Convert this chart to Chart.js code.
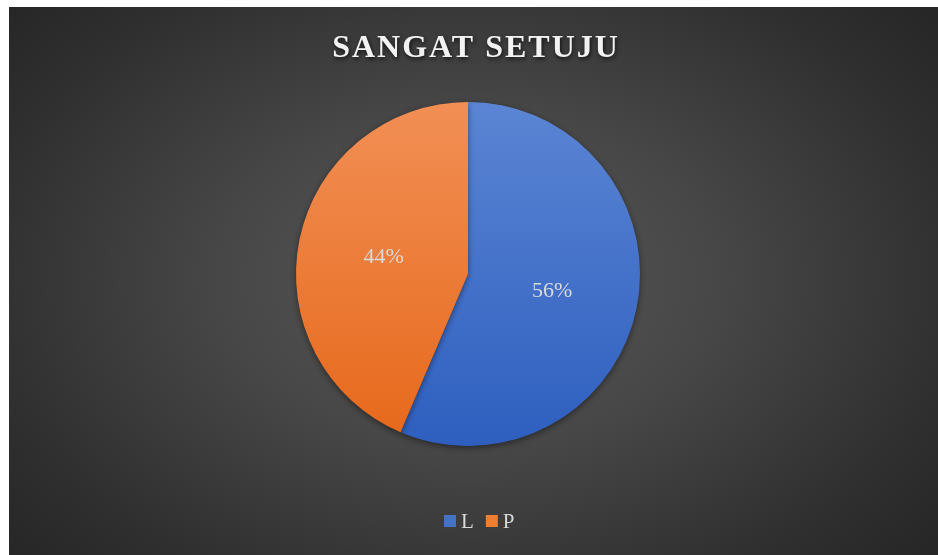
<!DOCTYPE html>
<html lang="id">
<head>
  <meta charset="UTF-8">
  <title>Sangat Setuju</title>
  <script src="https://cdn.jsdelivr.net/npm/chart.js"></script>
  <style>
    html, body { margin: 0; padding: 0; background: #fff; }
    #wrap {
      position: absolute; left: 9px; top: 7px; width: 929px; height: 548px;
      background: radial-gradient(ellipse 620px 420px at 460px 272px, #585858 0%, #474747 40%, #2f2f2f 80%, #262626 100%);
    }
  </style>
</head>
<body>

  <div id="wrap"><canvas id="pieChart" width="929" height="548"></canvas></div>

  <script>
    // data (counts: 56% / 44%)
    const chartTitle = 'SANGAT SETUJU';
    const categories = ['L', 'P'];
    const values = [22, 17];
    const topColors = ['#5b85d4', '#f28f55'];
    const bottomColors = ['#2e5fbf', '#e6681a'];
    const legendColors = ['#4472c4', '#ed7d31'];

    // vertical gradient per slice, across the pie
    function sliceFill(c) {
      const area = c.chart.chartArea;
      if (!area) return topColors[c.dataIndex];
      const g = c.chart.ctx.createLinearGradient(0, area.top, 0, area.bottom);
      g.addColorStop(0, topColors[c.dataIndex]);
      g.addColorStop(1, bottomColors[c.dataIndex]);
      return g;
    }

    const extras = {
      id: 'extras',
      beforeDatasetsDraw(chart) {
        const ctx = chart.ctx;
        ctx.save();
        ctx.shadowColor = 'rgba(0,0,0,0.45)';
        ctx.shadowBlur = 6;
        ctx.shadowOffsetY = 2;
      },
      afterDatasetsDraw(chart) {
        chart.ctx.restore();
      },
      afterDraw(chart) {
        const ctx = chart.ctx;
        const total = values.reduce((a, b) => a + b, 0);

        // title
        ctx.save();
        ctx.font = 'bold 32px "Liberation Serif", "Times New Roman", serif';
        ctx.letterSpacing = '2px';
        ctx.textAlign = 'center';
        ctx.textBaseline = 'middle';
        ctx.shadowColor = 'rgba(0,0,0,0.75)';
        ctx.shadowBlur = 4;
        ctx.shadowOffsetX = 1;
        ctx.shadowOffsetY = 2;
        ctx.fillStyle = '#f2f2f2';
        ctx.fillText(chartTitle, 467, 42);
        ctx.restore();

        // percentage labels
        ctx.save();
        ctx.font = '22px "Liberation Serif", "Times New Roman", serif';
        ctx.fillStyle = '#d9d9d9';
        ctx.textAlign = 'center';
        ctx.textBaseline = 'middle';
        chart.getDatasetMeta(0).data.forEach((arc, i) => {
          const p = arc.getCenterPoint();
          ctx.fillText(Math.round(values[i] / total * 100) + '%', p.x, p.y);
        });
        ctx.restore();

        // legend
        ctx.save();
        ctx.font = '21px "Liberation Serif", "Times New Roman", serif';
        ctx.textBaseline = 'middle';
        let x = 435;
        const y = 515;
        categories.forEach((name, i) => {
          ctx.fillStyle = legendColors[i];
          ctx.fillRect(x, y - 7, 12, 12);
          ctx.fillStyle = '#d9d9d9';
          ctx.fillText(name, x + 17, y);
          x += 17 + ctx.measureText(name).width + 12;
        });
        ctx.restore();
      }
    };

    new Chart(document.getElementById('pieChart'), {
      type: 'pie',
      data: {
        labels: categories,
        datasets: [{
          data: values,
          backgroundColor: sliceFill,
          borderWidth: 0
        }]
      },
      options: {
        responsive: false,
        animation: false,
        layout: { padding: { top: 95, bottom: 109, left: 0, right: 11 } },
        plugins: {
          legend: { display: false },
          tooltip: { enabled: false }
        }
      },
      plugins: [extras]
    });
  </script>

</body>
</html>
